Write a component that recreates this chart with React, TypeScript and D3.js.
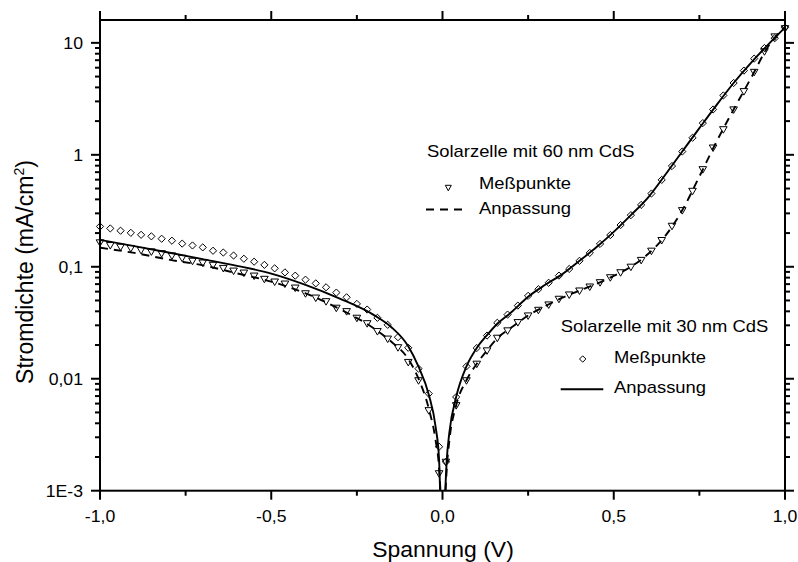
import React from "react";
import * as d3 from "d3";

// ---------- data ----------
const measuredVoltage = [
  -1.0, -0.97, -0.94, -0.91, -0.88, -0.85, -0.82, -0.79, -0.76, -0.73, -0.7, -0.67, -0.64, -0.61, -0.58, -0.55, -0.52,
  -0.49, -0.46, -0.43, -0.4, -0.37, -0.34, -0.31, -0.28, -0.25, -0.22, -0.19, -0.16, -0.13, -0.1, -0.07, -0.04, -0.01,
  0.01, 0.04, 0.07, 0.1, 0.13, 0.16, 0.19, 0.22, 0.25, 0.28, 0.31, 0.34, 0.37, 0.4, 0.43, 0.46, 0.49, 0.52, 0.55,
  0.58, 0.61, 0.64, 0.67, 0.7, 0.73, 0.76, 0.79, 0.82, 0.85, 0.88, 0.91, 0.94, 0.97, 1.0,
];

// 30 nm CdS, Meßpunkte (diamonds)
const cds30Measured = [
  0.229, 0.22, 0.21, 0.201, 0.193, 0.187, 0.178, 0.171, 0.161, 0.155, 0.149, 0.139, 0.134, 0.126, 0.118, 0.111, 0.104,
  0.0968, 0.0891, 0.0833, 0.0767, 0.0711, 0.0656, 0.0588, 0.0534, 0.0466, 0.0415, 0.035, 0.0303, 0.0235, 0.0189,
  0.0123, 0.00736, 0.00247,
  0.00181, 0.00687, 0.0129, 0.0188, 0.0243, 0.0316, 0.0374, 0.045, 0.055, 0.063, 0.072, 0.0834, 0.0956, 0.113, 0.133,
  0.16, 0.192, 0.236, 0.289, 0.357, 0.451, 0.597, 0.794, 1.07, 1.42, 1.92, 2.54, 3.39, 4.38, 5.65, 7.23, 8.99, 11.0,
  13.7,
];

// 60 nm CdS, Meßpunkte (triangles)
const cds60Measured = [
  0.165, 0.156, 0.151, 0.147, 0.141, 0.137, 0.132, 0.126, 0.12, 0.113, 0.109, 0.104, 0.0975, 0.0923, 0.0886, 0.0833,
  0.0779, 0.0737, 0.0707, 0.0651, 0.0579, 0.053, 0.0492, 0.043, 0.0401, 0.035, 0.0313, 0.0266, 0.0228, 0.0191, 0.0141,
  0.00968, 0.00523, 0.00143,
  0.00181, 0.0058, 0.00968, 0.0136, 0.0179, 0.0232, 0.027, 0.032, 0.0367, 0.0412, 0.046, 0.0517, 0.0565, 0.0613,
  0.0665, 0.0727, 0.0805, 0.0892, 0.1, 0.115, 0.139, 0.173, 0.232, 0.32, 0.476, 0.743, 1.16, 1.69, 2.54, 3.7, 5.5, 8.4,
  11.4, 13.5,
];

// 30 nm CdS, Anpassung (solid)
const fit30LeftV = [-1.0, -0.9, -0.8, -0.7, -0.6, -0.5, -0.4, -0.3, -0.2, -0.15, -0.1, -0.07, -0.04, -0.02, -0.01, -0.007];
const fit30LeftJ = [0.174, 0.153, 0.134, 0.117, 0.102, 0.087, 0.069, 0.052, 0.037, 0.029, 0.0195, 0.0128, 0.0072, 0.0037, 0.0019, 0.001];
const fit30RightV = [0.008, 0.012, 0.02, 0.04, 0.07, 0.1, 0.13, 0.16, 0.2, 0.25, 0.3, 0.35, 0.4, 0.45, 0.5, 0.55, 0.6, 0.65, 0.7, 0.75, 0.8, 0.85, 0.9, 0.95, 1.0];
const fit30RightJ = [0.001, 0.0018, 0.0033, 0.0069, 0.0129, 0.0188, 0.0245, 0.031, 0.039, 0.054, 0.069, 0.086, 0.113, 0.15, 0.205, 0.289, 0.415, 0.66, 1.07, 1.73, 2.78, 4.38, 6.6, 9.6, 13.7];

// 60 nm CdS, Anpassung (dashed)
const fit60LeftV = [-1.0, -0.9, -0.8, -0.7, -0.6, -0.5, -0.4, -0.3, -0.2, -0.15, -0.1, -0.07, -0.04, -0.02, -0.01, -0.006];
const fit60LeftJ = [0.148, 0.133, 0.116, 0.103, 0.0874, 0.0737, 0.058, 0.0419, 0.0281, 0.0215, 0.015, 0.01, 0.0054, 0.0028, 0.0016, 0.001];
const fit60RightV = [0.009, 0.012, 0.02, 0.04, 0.07, 0.1, 0.13, 0.16, 0.2, 0.25, 0.3, 0.35, 0.4, 0.45, 0.5, 0.55, 0.6, 0.65, 0.7, 0.75, 0.8, 0.85, 0.9, 0.95, 1.0];
const fit60RightJ = [0.001, 0.0015, 0.0028, 0.0058, 0.0097, 0.0136, 0.0179, 0.023, 0.0285, 0.0367, 0.0445, 0.053, 0.0613, 0.0705, 0.083, 0.1, 0.13, 0.188, 0.32, 0.64, 1.31, 2.54, 4.8, 9.2, 13.9];

const xMajorTicks = [-1, -0.5, 0, 0.5, 1];
const xMajorLabels = ["-1,0", "-0,5", "0,0", "0,5", "1,0"];
const xMinorTicks = [-0.75, -0.25, 0.25, 0.75];
const yMajorTicks = [0.001, 0.01, 0.1, 1, 10];
const yMajorLabels = ["1E-3", "0,01", "0,1", "1", "10"];

const xTitle = "Spannung (V)";
const yTitleMain = "Stromdichte (mA/cm";
const legend60Title = "Solarzelle mit 60 nm CdS";
const legend30Title = "Solarzelle mit 30 nm CdS";
const legendMarkerLabel = "Meßpunkte";
const legendLineLabel = "Anpassung";

// ---------- layout ----------
const W = 798;
const H = 562;
const X0 = 100;
const X1 = 785;
const Y0 = 20;
const Y1 = 490.7;
const FONT = "'Liberation Sans', Arial, Helvetica, sans-serif";

const x = d3.scaleLinear().domain([-1, 1]).range([X0, X1]);
const y = d3.scaleLog().domain([0.001, 16]).range([Y1, Y0]);

const yMinorTicks: number[] = [];
[0.001, 0.01, 0.1, 1].forEach((d) => {
  for (let k = 2; k <= 9; k++) yMinorTicks.push(d * k);
});

const lineGen = d3
  .line<[number, number]>()
  .x((d) => x(d[0]))
  .y((d) => y(d[1]))
  .curve(d3.curveMonotoneX);

const zip = (a: number[], b: number[]) => a.map((v, i) => [v, b[i]] as [number, number]);

function T({
  px,
  py,
  anchor = "start",
  size = 16,
  sx = 1,
  children,
}: {
  px: number;
  py: number;
  anchor?: string;
  size?: number;
  sx?: number;
  children: React.ReactNode;
}) {
  return (
    <text
      transform={`translate(${px},${py}) scale(${sx},1)`}
      textAnchor={anchor}
      fontSize={size}
      fontFamily={FONT}
      fill="#000"
    >
      {children}
    </text>
  );
}

const diamond = (r: number) => `M0,${-r}L${r},0L0,${r}L${-r},0Z`;
const triDown = (w: number, h: number) => `M${-w},${-h * 0.4}L${w},${-h * 0.4}L0,${h * 0.6}Z`;

export default function App() {
  const tickSize = 16.5;
  const tickSx = 1.07;
  const legSize = 16;
  const legSx = 1.15;

  return (
    <svg
      width={W}
      height={H}
      viewBox={`0 0 ${W} ${H}`}
      style={{ position: "absolute", left: 0, top: 0, background: "#fff" }}
    >
      <rect x={0} y={0} width={W} height={H} fill="#fff" />

      {/* fit lines */}
      <path d={lineGen(zip(fit30LeftV, fit30LeftJ)) || ""} fill="none" stroke="#000" strokeWidth={1.9} />
      <path d={lineGen(zip(fit30RightV, fit30RightJ)) || ""} fill="none" stroke="#000" strokeWidth={1.9} />
      <path
        d={lineGen(zip(fit60LeftV, fit60LeftJ)) || ""}
        fill="none"
        stroke="#000"
        strokeWidth={1.9}
        strokeDasharray="8,6"
      />
      <path
        d={lineGen(zip(fit60RightV, fit60RightJ)) || ""}
        fill="none"
        stroke="#000"
        strokeWidth={1.9}
        strokeDasharray="8,6"
      />

      {/* measured points */}
      {measuredVoltage.map((v, i) => (
        <path
          key={"d" + i}
          d={diamond(3.6)}
          transform={`translate(${x(v)},${y(cds30Measured[i])})`}
          fill="none"
          stroke="#000"
          strokeWidth={1}
        />
      ))}
      {measuredVoltage.map((v, i) => (
        <path
          key={"t" + i}
          d={triDown(3.8, 6.5)}
          transform={`translate(${x(v)},${y(cds60Measured[i])})`}
          fill="none"
          stroke="#000"
          strokeWidth={1}
        />
      ))}

      {/* frame */}
      <rect x={X0} y={Y0} width={X1 - X0} height={Y1 - Y0} fill="none" stroke="#000" strokeWidth={2} />

      {/* x ticks (bottom & top, outward) */}
      {xMajorTicks.map((t) => (
        <g key={"xm" + t}>
          <line x1={x(t)} x2={x(t)} y1={Y1} y2={Y1 + 9} stroke="#000" strokeWidth={2} />
          <line x1={x(t)} x2={x(t)} y1={Y0} y2={Y0 - 9} stroke="#000" strokeWidth={2} />
        </g>
      ))}
      {xMinorTicks.map((t) => (
        <g key={"xn" + t}>
          <line x1={x(t)} x2={x(t)} y1={Y1} y2={Y1 + 5} stroke="#000" strokeWidth={2} />
          <line x1={x(t)} x2={x(t)} y1={Y0} y2={Y0 - 5} stroke="#000" strokeWidth={2} />
        </g>
      ))}
      {xMajorTicks.map((t, i) => (
        <T key={"xl" + t} px={x(t)} py={521.5} anchor="middle" size={tickSize} sx={tickSx}>
          {xMajorLabels[i]}
        </T>
      ))}

      {/* y ticks (left & right, outward) */}
      {yMajorTicks.map((t) => (
        <g key={"ym" + t}>
          <line x1={X0} x2={X0 - 9} y1={y(t)} y2={y(t)} stroke="#000" strokeWidth={2} />
          <line x1={X1} x2={X1 + 9} y1={y(t)} y2={y(t)} stroke="#000" strokeWidth={2} />
        </g>
      ))}
      {yMinorTicks.map((t) => (
        <g key={"yn" + t}>
          <line x1={X0} x2={X0 - 5} y1={y(t)} y2={y(t)} stroke="#000" strokeWidth={2} />
          <line x1={X1} x2={X1 + 5} y1={y(t)} y2={y(t)} stroke="#000" strokeWidth={2} />
        </g>
      ))}
      {yMajorTicks.map((t, i) => (
        <T key={"yl" + t} px={83} py={y(t) + 5.9} anchor="end" size={tickSize} sx={tickSx}>
          {yMajorLabels[i]}
        </T>
      ))}

      {/* axis titles */}
      <T px={443} py={557} anchor="middle" size={22.5} sx={1.02}>
        {xTitle}
      </T>
      <text
        transform="translate(33,272) rotate(-90)"
        textAnchor="middle"
        fontSize={23}
        fontFamily={FONT}
        fill="#000"
      >
        {yTitleMain}
        <tspan dy={-9} fontSize={14}>
          2
        </tspan>
        <tspan dy={9}>)</tspan>
      </text>

      {/* legend 60 nm */}
      <T px={427} py={157} size={legSize} sx={legSx}>
        {legend60Title}
      </T>
      <path d={triDown(3, 5.5)} transform="translate(448.3,187.5)" fill="none" stroke="#000" strokeWidth={1} />
      <T px={479} py={189.3} size={legSize} sx={legSx}>
        {legendMarkerLabel}
      </T>
      <line x1={426} x2={468} y1={209.5} y2={209.5} stroke="#000" strokeWidth={1.9} strokeDasharray="8,6" />
      <T px={479} py={213.5} size={legSize} sx={legSx}>
        {legendLineLabel}
      </T>

      {/* legend 30 nm */}
      <T px={560.7} py={331.7} size={legSize} sx={legSx}>
        {legend30Title}
      </T>
      <path d={diamond(3.2)} transform="translate(582.7,359)" fill="none" stroke="#000" strokeWidth={1} />
      <T px={614} py={363.3} size={legSize} sx={legSx}>
        {legendMarkerLabel}
      </T>
      <line x1={560.7} x2={603.3} y1={389.3} y2={389.3} stroke="#000" strokeWidth={1.9} />
      <T px={614} py={393.3} size={legSize} sx={legSx}>
        {legendLineLabel}
      </T>
    </svg>
  );
}
